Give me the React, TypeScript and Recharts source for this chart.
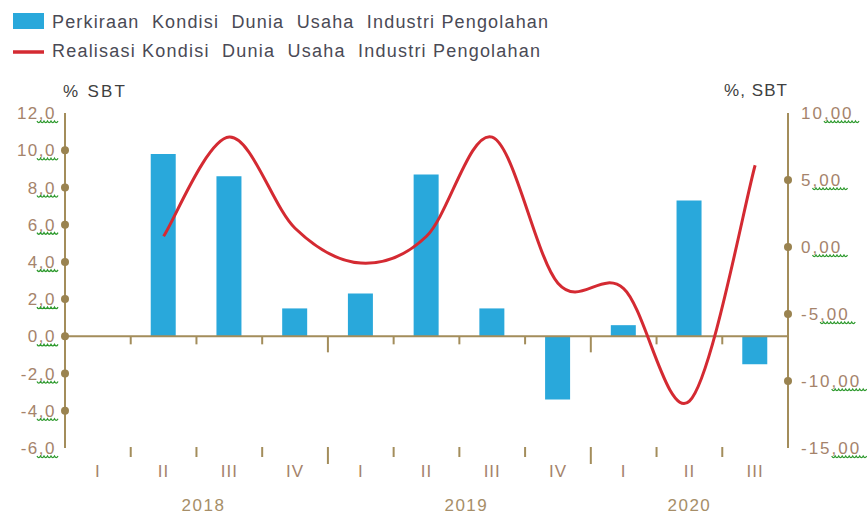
import React from 'react';
import { ComposedChart, Bar, Line, XAxis, YAxis, ReferenceLine } from 'recharts';

// quarters, 2018 Q1 .. 2020 Q3
const QUARTERS = ['I', 'II', 'III', 'IV', 'I', 'II', 'III', 'IV', 'I', 'II', 'III'];
const YEARS = ['2018', '2018', '2018', '2018', '2019', '2019', '2019', '2019', '2020', '2020', '2020'];
const PERKIRAAN = [null, 9.8, 8.6, 1.5, 2.3, 8.7, 1.5, -3.4, 0.6, 7.3, -1.5];
const REALISASI = [null, 0.8, 8.2, 1.4, -1.2, 0.8, 8.2, -2.7, -3.1, -11.5, 6.1];
const LEFT_TICKS = [-6, -4, -2, 0, 2, 4, 6, 8, 10, 12];
const RIGHT_TICKS = [-15, -10, -5, 0, 5, 10];

const W = 867;
const H = 516;
const PLOT_L = 65;
const PLOT_R = 788;
const PLOT_T = 113;
const PLOT_B = 448;
const BAND = (PLOT_R - PLOT_L) / QUARTERS.length;
const L_MIN = LEFT_TICKS[0];
const L_MAX = LEFT_TICKS[LEFT_TICKS.length - 1];
const ZERO_Y = PLOT_T + (PLOT_B - PLOT_T) * (L_MAX / (L_MAX - L_MIN));

const AXIS = '#A38D5B';
const DOT = '#9A8350';
const BAR = '#29A8DB';
const RED = '#D42A32';
const TICK_TXT = '#A5836B';
const YEAR_TXT = '#A68E68';
const TITLE = '#404040';
const LEGEND_TXT = '#4A4A55';
const SPELL = '#2E9A2E';
const FONT = '"Liberation Sans", Arial, sans-serif';

const data = QUARTERS.map((q, i) => ({
  key: `${YEARS[i]} ${q}`,
  perkiraan: PERKIRAAN[i],
  realisasi: REALISASI[i],
}));

// Excel-like smoothed line (Catmull-Rom through the points)
const excelCurve = (context: any) => {
  let pts: [number, number][] = [];
  return {
    areaStart() {},
    areaEnd() {},
    lineStart() { pts = []; },
    point(x: number, y: number) { pts.push([+x, +y]); },
    lineEnd() {
      if (!pts.length) return;
      context.moveTo(pts[0][0], pts[0][1]);
      for (let i = 0; i < pts.length - 1; i++) {
        const p0 = pts[i - 1] || pts[i];
        const p1 = pts[i];
        const p2 = pts[i + 1];
        const p3 = pts[i + 2] || p2;
        context.bezierCurveTo(
          p1[0] + (p2[0] - p0[0]) / 6, p1[1] + (p2[1] - p0[1]) / 6,
          p2[0] - (p3[0] - p1[0]) / 6, p2[1] - (p3[1] - p1[1]) / 6,
          p2[0], p2[1],
        );
      }
    },
  };
};

// wavy spell-check underline
function squiggle(x0: number, x1: number, y: number) {
  let d = `M${x0},${y}`;
  for (let xx = x0; xx < x1; xx += 3.5) d += ` Q${xx + 1.75},${y + 3.2} ${xx + 3.5},${y}`;
  return d;
}

const fmt = (v: number, digits: number) => v.toFixed(digits).replace('.', ',');

function LeftTick({ x, y, payload }: any) {
  const v = payload.value;
  const end = v === L_MIN || v === L_MAX;
  return (
    <g>
      {!end && <circle cx={PLOT_L} cy={y} r={4} fill={DOT} />}
      <text x={x} y={y} dy="0.36em" textAnchor="end" fontSize={17} letterSpacing={1.5} fill={TICK_TXT} fontFamily={FONT}>
        {fmt(v, 1)}
      </text>
      <path d={squiggle(x - 19, x - 1, y + 8)} stroke={SPELL} strokeWidth={1.3} fill="none" />
    </g>
  );
}

function RightTick({ x, y, payload }: any) {
  const v = payload.value;
  const end = v === RIGHT_TICKS[0] || v === RIGHT_TICKS[RIGHT_TICKS.length - 1];
  const intPart = String(Math.trunc(v));
  const intW = intPart.split('').reduce((s, c) => s + (c === '-' ? 7.7 : 11.5), 0);
  return (
    <g>
      {!end && <circle cx={PLOT_R} cy={y} r={4} fill={DOT} />}
      <text x={x} y={y} dy="0.36em" textAnchor="start" fontSize={17} letterSpacing={2} fill={TICK_TXT} fontFamily={FONT}>
        {fmt(v, 2)}
      </text>
      <path d={squiggle(x + intW, x + intW + 32, y + 8)} stroke={SPELL} strokeWidth={1.3} fill="none" />
    </g>
  );
}

function XTick({ x, index }: any) {
  const first = index === 0 || YEARS[index] !== YEARS[index - 1];
  const count = YEARS.filter((yy) => yy === YEARS[index]).length;
  const bx = x - BAND / 2;
  return (
    <g>
      {index > 0 && (
        <>
          <line x1={bx} x2={bx} y1={ZERO_Y} y2={ZERO_Y + (first ? 16 : 8)} stroke={AXIS} strokeWidth={2} />
          <line x1={bx} x2={bx} y1={PLOT_B - 1} y2={PLOT_B + (first ? 16 : 9)} stroke={AXIS} strokeWidth={2} />
        </>
      )}
      <text x={x} y={471} dy="0.36em" textAnchor="middle" fontSize={17} letterSpacing={1} fill={TICK_TXT} fontFamily={FONT}>
        {QUARTERS[index]}
      </text>
      {first && (
        <text
          x={x + ((count - 1) * BAND) / 2 + (count === 4 ? 7 : 0)}
          y={505} dy="0.36em" textAnchor="middle" fontSize={17} letterSpacing={1.5} fill={YEAR_TXT} fontFamily={FONT}
        >
          {YEARS[index]}
        </text>
      )}
    </g>
  );
}

export default function App() {
  return (
    <div style={{ position: 'absolute', left: 0, top: 0, width: W, height: H, background: '#fff' }}>
      <ComposedChart
        width={W}
        height={H}
        data={data}
        margin={{ top: PLOT_T, right: 0, bottom: 0, left: 0 }}
      >
        <XAxis
          dataKey="key"
          height={H - PLOT_B}
          interval={0}
          axisLine={false}
          tickLine={false}
          tickSize={0}
          tickMargin={0}
          tick={<XTick />}
        />
        <YAxis
          yAxisId="left"
          width={PLOT_L}
          domain={[L_MIN, L_MAX]}
          ticks={LEFT_TICKS}
          interval={0}
          axisLine={{ stroke: AXIS, strokeWidth: 2 }}
          tickLine={false}
          tickSize={0}
          tickMargin={9}
          tick={<LeftTick />}
        />
        <YAxis
          yAxisId="right"
          orientation="right"
          width={W - PLOT_R}
          domain={[RIGHT_TICKS[0], RIGHT_TICKS[RIGHT_TICKS.length - 1]]}
          ticks={RIGHT_TICKS}
          interval={0}
          axisLine={{ stroke: AXIS, strokeWidth: 2 }}
          tickLine={false}
          tickSize={0}
          tickMargin={13}
          tick={<RightTick />}
        />
        <Bar yAxisId="left" dataKey="perkiraan" fill={BAR} barSize={25} isAnimationActive={false} />
        <ReferenceLine yAxisId="left" y={0} stroke={AXIS} strokeWidth={2} />
        <Line
          yAxisId="right"
          dataKey="realisasi"
          type={excelCurve as any}
          stroke={RED}
          strokeWidth={3}
          dot={false}
          activeDot={false}
          isAnimationActive={false}
        />
      </ComposedChart>

      {/* legend and axis titles */}
      <svg width={W} height={110} style={{ position: 'absolute', left: 0, top: 0, pointerEvents: 'none' }}>
        <rect x={13} y={13} width={31} height={16} fill={BAR} />
        <text x={52} y={28} fontSize={18} fill={LEGEND_TXT} fontFamily={FONT} textLength={496} lengthAdjust="spacing" style={{ whiteSpace: 'pre' }}>
          {'Perkiraan  Kondisi  Dunia  Usaha  Industri Pengolahan'}
        </text>
        <line x1={13} x2={44} y1={52} y2={52} stroke={RED} strokeWidth={3.5} />
        <text x={52} y={57} fontSize={18} fill={LEGEND_TXT} fontFamily={FONT} textLength={488} lengthAdjust="spacing" style={{ whiteSpace: 'pre' }}>
          {'Realisasi Kondisi  Dunia  Usaha  Industri Pengolahan'}
        </text>
        <text x={63} y={97} fontSize={17} fill={TITLE} fontFamily={FONT} textLength={62} lengthAdjust="spacing" style={{ whiteSpace: 'pre' }}>
          % SBT
        </text>
        <text x={724} y={96} fontSize={17} fill={TITLE} fontFamily={FONT} textLength={63} lengthAdjust="spacing" style={{ whiteSpace: 'pre' }}>
          %, SBT
        </text>
      </svg>
    </div>
  );
}
